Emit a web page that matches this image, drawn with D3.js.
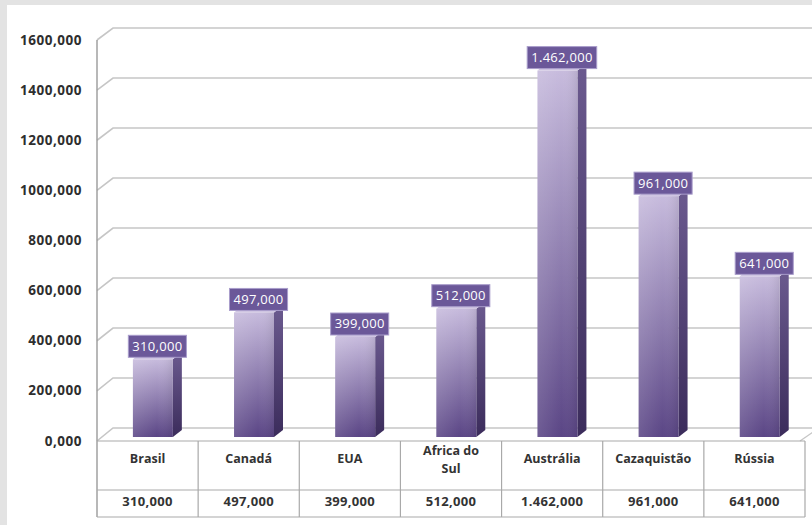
<!DOCTYPE html>
<html>
<head>
<meta charset="utf-8">
<script src="https://cdn.jsdelivr.net/npm/d3@7/dist/d3.min.js"></script>
<style>
  html, body { margin: 0; padding: 0; background: #e3e3e3; }
  svg { display: block; }
  text { font-family: "Open Sans", "Liberation Sans", sans-serif; }
</style>
</head>
<body>
<svg id="chart" width="812" height="525"></svg>
<script>
// ---- data ----
const categories = ["Brasil", "Canadá", "EUA", "Africa do Sul", "Austrália", "Cazaquistão", "Rússia"];
const values = [310, 497, 399, 512, 1462, 961, 641];
const valueLabels = ["310,000", "497,000", "399,000", "512,000", "1.462,000", "961,000", "641,000"];
const yTickValues = [0, 200, 400, 600, 800, 1000, 1200, 1400, 1600];
const yTickLabels = ["0,000", "200,000", "400,000", "600,000", "800,000", "1000,000", "1200,000", "1400,000", "1600,000"];

const W = 812, H = 525;
const svg = d3.select("#chart");

// background panel
svg.append("rect").attr("x", 0).attr("y", 0).attr("width", W).attr("height", H).attr("fill", "#e3e3e3");
svg.append("rect").attr("x", 7).attr("y", 5).attr("width", W - 7).attr("height", H - 5).attr("fill", "#ffffff");

// layout
const left = 97, right = 805;
const depthX = 16;
const tableTop = 441, tableMid = 490, tableBottom = 517;

const x = d3.scaleBand().domain(categories).range([left, right]).padding(0);
const yFront = d3.scaleLinear().domain([0, 1600]).range([tableTop, 40]);
const yBack = d3.scaleLinear().domain([0, 1600]).range([428, 28]);
const yBar = d3.scaleLinear().domain([0, 1600]).range([437, 36]);

const defs = svg.append("defs");
const gFront = defs.append("linearGradient").attr("id", "gFront").attr("x1", 0).attr("y1", 0).attr("x2", 0).attr("y2", 1);
gFront.append("stop").attr("offset", "0%").attr("stop-color", "#c7bbdd");
gFront.append("stop").attr("offset", "100%").attr("stop-color", "#5a4585");
const gShine = defs.append("linearGradient").attr("id", "gShine").attr("x1", 0).attr("y1", 0).attr("x2", 1).attr("y2", 0);
gShine.append("stop").attr("offset", "0%").attr("stop-color", "#ffffff").attr("stop-opacity", 0.12);
gShine.append("stop").attr("offset", "60%").attr("stop-color", "#ffffff").attr("stop-opacity", 0.0);
gShine.append("stop").attr("offset", "100%").attr("stop-color", "#000000").attr("stop-opacity", 0.08);
const gSide = defs.append("linearGradient").attr("id", "gSide").attr("x1", 0).attr("y1", 0).attr("x2", 0).attr("y2", 1);
gSide.append("stop").attr("offset", "0%").attr("stop-color", "#6b5a8f");
gSide.append("stop").attr("offset", "100%").attr("stop-color", "#3b2c5b");

const gridColor = "#c6c6c6";

// gridlines (left slant + back wall)
const grid = svg.append("g");
yTickValues.forEach(t => {
  if (t === 0) return;
  grid.append("path")
    .attr("d", `M${left},${yFront(t)} L${left + depthX},${yBack(t)} L${W},${yBack(t)}`)
    .attr("fill", "none").attr("stroke", gridColor).attr("stroke-width", 1.6);
});

// floor
const floorRight = right;
grid.append("path")
  .attr("d", `M${left},${yFront(0)} L${left + depthX},${yBack(0)} L${floorRight + depthX},${yBack(0)}`)
  .attr("fill", "none").attr("stroke", gridColor).attr("stroke-width", 1.6);
grid.append("path")
  .attr("d", `M${floorRight - 5},${yFront(0)} L${floorRight + depthX - 5},${yBack(0) + 2}`)
  .attr("fill", "none").attr("stroke", gridColor).attr("stroke-width", 1.4);

// y axis labels
svg.append("g").selectAll("text").data(yTickValues).join("text")
  .attr("x", 82).attr("y", d => yFront(d) + 1)
  .attr("text-anchor", "end").attr("dominant-baseline", "middle")
  .attr("font-size", 13.5).attr("font-weight", 700).attr("letter-spacing", 0.5)
  .attr("fill", "#2e2e2e")
  .text((d, i) => yTickLabels[i]);

// bars
const bw = x.bandwidth();
const barW = bw * 0.395, barOff = bw * 0.355;
const dX = 9, dY = 7;
const bars = svg.append("g");
categories.forEach((c, i) => {
  const v = values[i];
  const x0 = x(c) + barOff;
  const yt = yBar(v), yb = yBar(0);
  bars.append("path")
    .attr("d", `M${x0 + barW},${yt} L${x0 + barW + dX},${yt - dY} L${x0 + barW + dX},${yb - dY} L${x0 + barW},${yb} Z`)
    .attr("fill", "url(#gSide)");
  bars.append("path")
    .attr("d", `M${x0},${yt} L${x0 + dX},${yt - dY} L${x0 + barW + dX},${yt - dY} L${x0 + barW},${yt} Z`)
    .attr("fill", "#cfc5e2");
  bars.append("rect").attr("x", x0).attr("y", yt).attr("width", barW).attr("height", yb - yt).attr("fill", "url(#gFront)");
  bars.append("rect").attr("x", x0).attr("y", yt).attr("width", barW).attr("height", yb - yt).attr("fill", "url(#gShine)");
});

// data labels
const labels = svg.append("g");
categories.forEach((c, i) => {
  const v = values[i];
  const cx = x(c) + barOff + (barW + dX) / 2;
  const yt = yBar(v);
  const g = labels.append("g");
  const box = g.append("rect");
  const t = g.append("text")
    .attr("x", cx).attr("y", yt - 12)
    .attr("text-anchor", "middle").attr("dominant-baseline", "middle")
    .attr("font-size", 13).attr("letter-spacing", 0.3)
    .attr("fill", "#ffffff")
    .text(valueLabels[i]);
  const tw = t.node().getComputedTextLength();
  box.attr("x", cx - tw / 2 - 4).attr("y", yt - 24).attr("width", tw + 8).attr("height", 22)
    .attr("fill", "#6b5899").attr("stroke", "#a99dcb").attr("stroke-width", 1);
});

// data table
const table = svg.append("g");
const tblStroke = "#a9a9a9";
table.append("line").attr("x1", left).attr("x2", left).attr("y1", yFront(1600)).attr("y2", tableBottom).attr("stroke", "#9a9a9a").attr("stroke-width", 1.4);
[tableTop, tableMid, tableBottom].forEach(yy => {
  table.append("line").attr("x1", left).attr("x2", right).attr("y1", yy).attr("y2", yy).attr("stroke", tblStroke).attr("stroke-width", 1.2);
});
categories.forEach((c, i) => {
  table.append("line").attr("x1", x(c) + bw).attr("x2", x(c) + bw).attr("y1", tableTop).attr("y2", tableBottom)
    .attr("stroke", tblStroke).attr("stroke-width", 1.2);
});

// header text with wrapping
categories.forEach((c, i) => {
  const cx = x(c) + bw / 2;
  const t = table.append("text").attr("x", cx).attr("text-anchor", "middle")
    .attr("font-size", 12.5).attr("font-weight", 700).attr("fill", "#333333");
  t.text(c);
  let lines = [c];
  const words = c.split(" ");
  if (words.length > 1 && t.node().getComputedTextLength() > bw * 0.7) {
    lines = [words.slice(0, -1).join(" "), words[words.length - 1]];
  }
  t.text(null);
  const startY = lines.length === 1 ? 460 : 452;
  lines.forEach((ln, k) => {
    t.append("tspan").attr("x", cx).attr("y", startY + k * 18).attr("dominant-baseline", "middle").text(ln);
  });
  table.append("text").attr("x", cx).attr("y", 503).attr("text-anchor", "middle").attr("dominant-baseline", "middle")
    .attr("font-size", 13).attr("font-weight", 700).attr("letter-spacing", 0.3).attr("fill", "#333333")
    .text(valueLabels[i]);
});
</script>
</body>
</html>
